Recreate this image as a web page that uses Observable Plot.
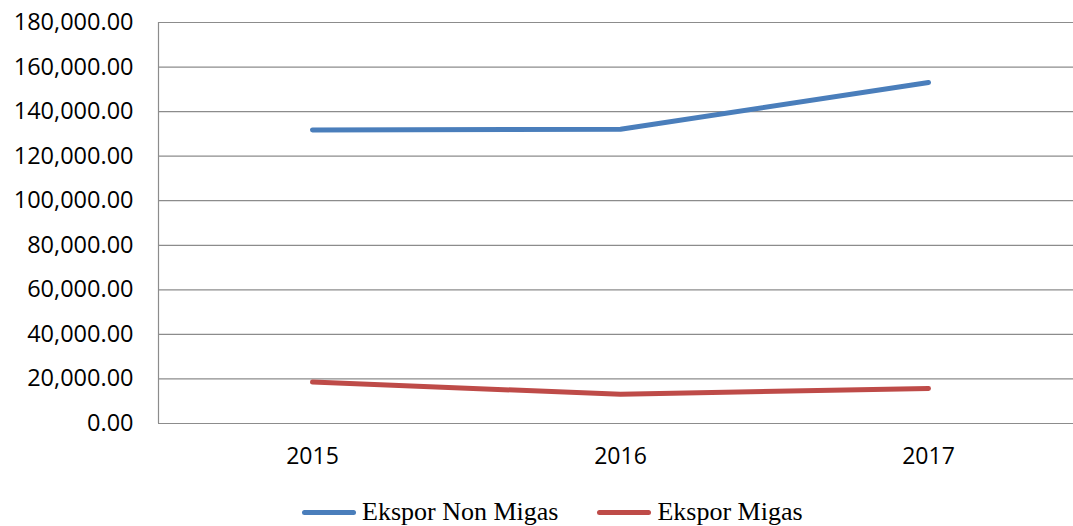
<!DOCTYPE html>
<html>
<head>
<meta charset="utf-8">
<script src="https://cdn.jsdelivr.net/npm/d3@7"></script>
<script src="https://cdn.jsdelivr.net/npm/@observablehq/plot@0.6"></script>
<style>
  html, body { margin: 0; padding: 0; background: #fff; }
  #wrap { position: relative; width: 1073px; height: 526px; overflow: hidden; }
  #legend { position: absolute; left: 302px; top: 499px; display: flex; align-items: center; line-height: 26px;
            font-family: "Liberation Serif", "Times New Roman", serif; font-size: 26px; color: #000; white-space: nowrap; }
  .item { display: flex; align-items: center; margin-right: 39px; }
  .sw { width: 54px; height: 5px; border-radius: 3px; margin-right: 6px; }
</style>
</head>
<body>
<div id="wrap"><div id="chart"></div><div id="legend"></div></div>
<script>
const years = [2015, 2016, 2017];
const seriesNames = ["Ekspor Non Migas", "Ekspor Migas"];
const nonMigas = [131791.9, 132080.8, 153083.8];
const migas = [18574.4, 13105.5, 15744.0];
const yTicks = [0, 20000, 40000, 60000, 80000, 100000, 120000, 140000, 160000, 180000];
const colors = ["#4A7EBB", "#BE4B48"];

const data = [];
years.forEach((yr, i) => {
  data.push({year: yr, value: nonMigas[i], series: seriesNames[0]});
  data.push({year: yr, value: migas[i], series: seriesNames[1]});
});

const chart = Plot.plot({
  width: 1073,
  height: 480,
  marginTop: 22,
  marginBottom: 57,
  marginLeft: 158,
  marginRight: 0,
  style: {fontFamily: "'Open Sans', sans-serif", fontSize: "23px", color: "#000", background: "#fff"},
  x: {type: "linear", domain: [2014.5, 2017.5], range: [158, 1082]},
  y: {domain: [0, 180000]},
  color: {domain: seriesNames, range: colors},
  marks: [
    Plot.ruleY(yTicks, {stroke: "#8c8c8c", strokeWidth: 1.2, strokeOpacity: 1}),
    Plot.ruleX([2014.5], {y1: 0, y2: 180000, stroke: "#8c8c8c", strokeWidth: 1.2, strokeOpacity: 1}),
    Plot.axisY(yTicks, {tickSize: 0, tickPadding: 25, tickFormat: d3.format(",.2f"), label: null, fontSize: 23.5}),
    Plot.axisX(years, {tickSize: 0, tickPadding: 24, tickFormat: d => String(d), label: null, fontSize: 23}),
    Plot.line(data, {x: "year", y: "value", z: "series", stroke: "series", strokeWidth: 5, strokeLinecap: "round", strokeLinejoin: "round"})
  ]
});
document.getElementById("chart").appendChild(chart);

const legend = document.getElementById("legend");
seriesNames.forEach((name, i) => {
  const item = document.createElement("div");
  item.className = "item";
  const sw = document.createElement("div");
  sw.className = "sw";
  sw.style.background = colors[i];
  const label = document.createElement("span");
  label.textContent = name;
  item.appendChild(sw);
  item.appendChild(label);
  legend.appendChild(item);
});
</script>
</body>
</html>
